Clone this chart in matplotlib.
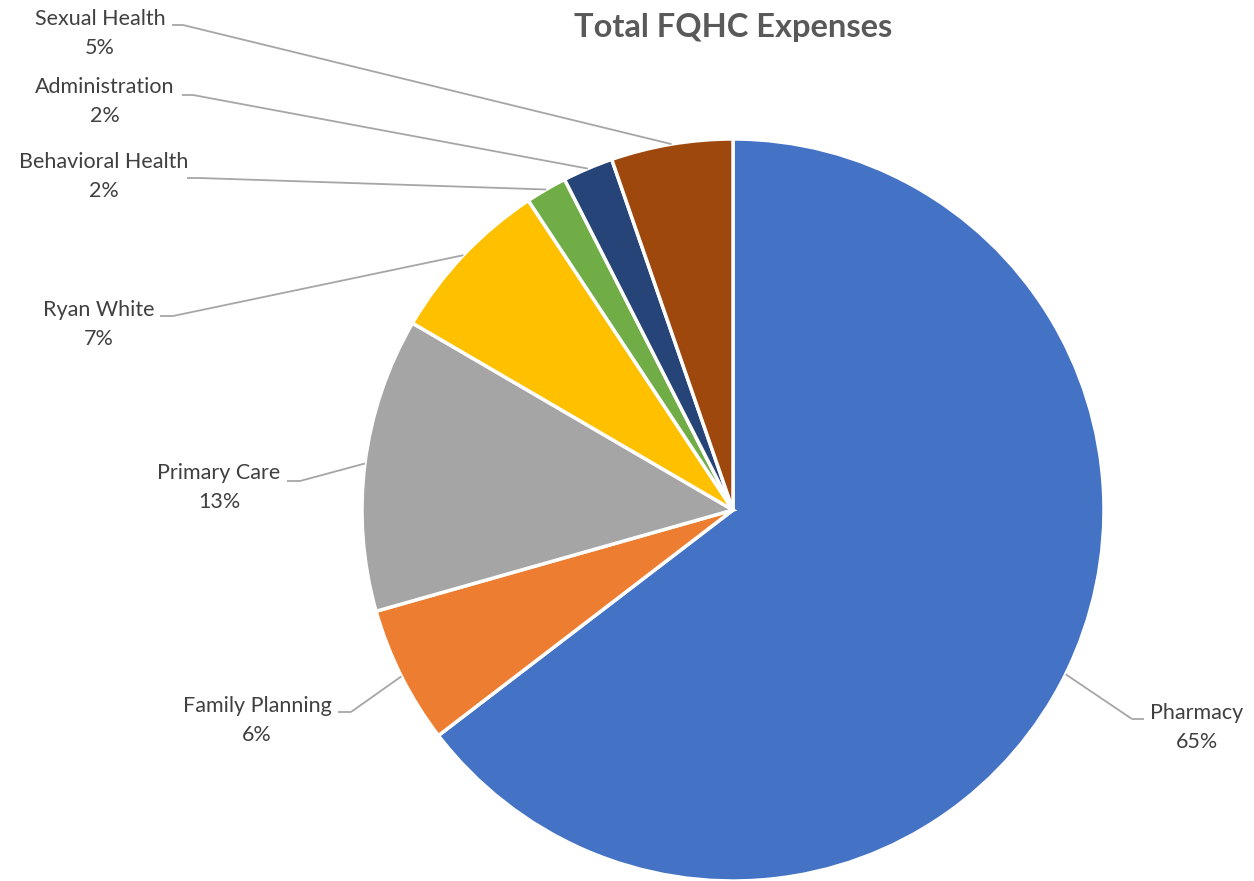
import matplotlib
matplotlib.use("Agg")
import matplotlib.pyplot as plt
import numpy as np

# chart data
categories = ["Pharmacy", "Family Planning", "Primary Care", "Ryan White",
              "Behavioral Health", "Administration", "Sexual Health"]
shares = [64.6, 6.0, 12.8, 7.3, 1.8, 2.2, 5.3]
slice_colors = ["#4472C4", "#ED7D31", "#A5A5A5", "#FFC000",
                "#70AD47", "#264478", "#9E480E"]
title = "Total FQHC Expenses"

# label layout in pixels (from top-left): text centre x, name y, horizontal leader segment
label_cx = [1197, 257, 219, 99, 104, 105, 100]
label_cy = [713, 706, 473, 310, 162, 87, 19]
seg_x0 = [1132, 338, 287, 160, 187, 182, 172]
seg_x1 = [1144, 351, 300, 173, 199, 193, 183]
seg_y = [719, 712, 481, 316, 178, 95, 25]

W, H = 1254, 881
fig = plt.figure(figsize=(W / 100, H / 100), dpi=100)
ax = fig.add_axes([0, 0, 1, 1])

cx, cy, r = 733, H - 510, 371
wedges, _ = ax.pie(shares, colors=slice_colors, startangle=90, counterclock=False,
                   center=(cx, cy), radius=r,
                   wedgeprops=dict(edgecolor="white", linewidth=2.5))
ax.set_xlim(0, W)
ax.set_ylim(0, H)
ax.set_aspect("equal")
ax.axis("off")

font = "Lato"
txt_color = "#404040"
line_color = "#A6A6A6"

for i, w in enumerate(wedges):
    mid = np.deg2rad((w.theta1 + w.theta2) / 2)
    px, py = cx + r * np.cos(mid), cy + r * np.sin(mid)
    sy = H - seg_y[i]
    ax.plot([px, seg_x1[i] if px > seg_x1[i] else seg_x0[i]], [py, sy],
            color=line_color, lw=1.3, solid_capstyle="butt")
    ax.plot([seg_x0[i], seg_x1[i]], [sy, sy], color=line_color, lw=1.3,
            solid_capstyle="butt")
    ax.text(label_cx[i], H - label_cy[i], categories[i], ha="center", va="center",
            fontsize=15.5, color=txt_color, family=font)
    ax.text(label_cx[i], H - label_cy[i] - 29, f"{shares[i]:.0f}%", ha="center",
            va="center", fontsize=15.5, color=txt_color, family=font)

ax.text(733, H - 28, title, ha="center", va="center", fontsize=23.5,
        fontweight="bold", color="#595959", family=font)

fig.savefig("out.png", dpi=100)
